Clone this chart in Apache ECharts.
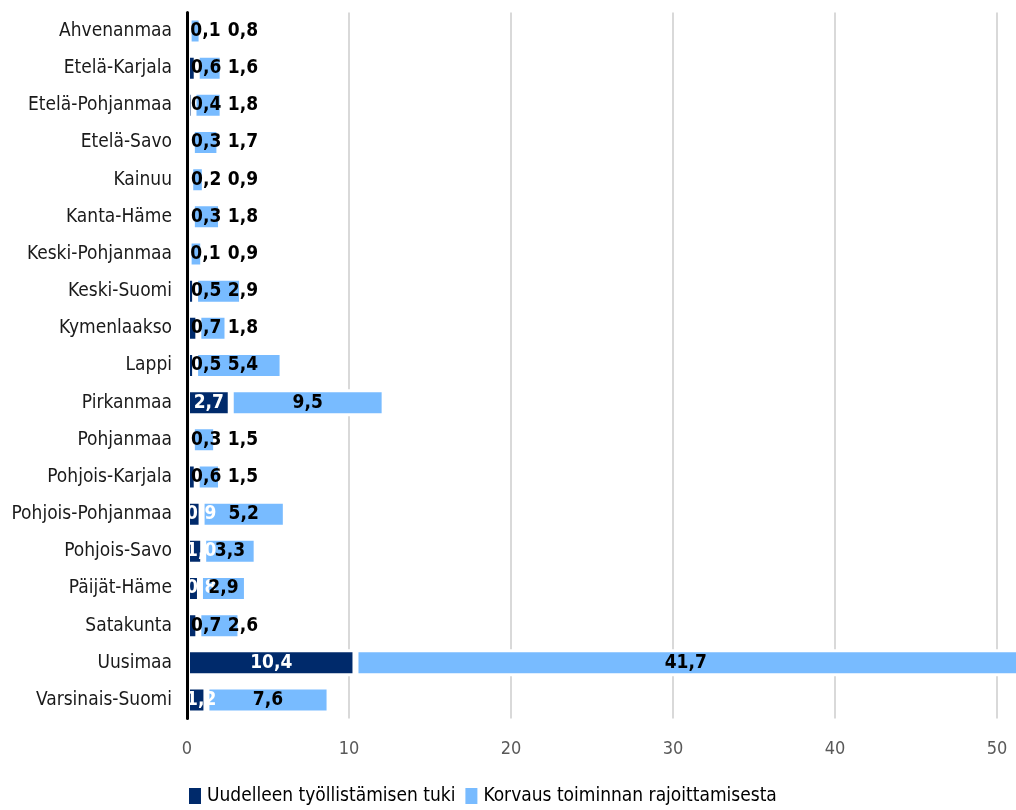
<!DOCTYPE html>
<html><head><meta charset="utf-8">
<script src="https://cdn.jsdelivr.net/npm/echarts@6/dist/echarts.min.js"></script>
<style>html,body{margin:0;padding:0;background:#fff}#c{width:1016px;height:810px}</style>
</head><body><div id="c"></div>
<script>
const categories = ['Ahvenanmaa','Etelä-Karjala','Etelä-Pohjanmaa','Etelä-Savo','Kainuu','Kanta-Häme','Keski-Pohjanmaa','Keski-Suomi','Kymenlaakso','Lappi','Pirkanmaa','Pohjanmaa','Pohjois-Karjala','Pohjois-Pohjanmaa','Pohjois-Savo','Päijät-Häme','Satakunta','Uusimaa','Varsinais-Suomi'];
const tuki = [0.1,0.6,0.4,0.3,0.2,0.3,0.1,0.5,0.7,0.5,2.7,0.3,0.6,0.9,1.0,0.8,0.7,10.4,1.2];
const korvaus = [0.8,1.6,1.8,1.7,0.9,1.8,0.9,2.9,1.8,5.4,9.5,1.5,1.5,5.2,3.3,2.9,2.6,41.7,7.6];
const seriesNames = ['Uudelleen työllistämisen tuki','Korvaus toiminnan rajoittamisesta'];
const xMin = 0, xInterval = 10;

const FONT = "'DejaVu Sans Condensed',sans-serif";
const DARK = '#002a6b', LIGHT = '#78bbff';
const GRID_LEFT = 187;
const fmt = v => v.toFixed(1).replace('.', ',');

const chart = echarts.init(document.getElementById('c'), null, {renderer:'canvas'});
const W = 1016;
const gridWidth = 1100;
const pxPerUnit = 16.2;
const xMax = gridWidth / pxPerUnit;
const darkInside = v => v >= 0.8;

const darkData = tuki.map(v => ({value: v, label: {color: darkInside(v) ? '#fff' : '#000'}}));

chart.setOption({
  animation: false,
  textStyle: {fontFamily: FONT},
  grid: {left: GRID_LEFT, width: gridWidth, top: 12.4, bottom: 91.4, containLabel: false, outerBoundsMode: 'none'},
  xAxis: {
    type: 'value', min: xMin, max: xMax, interval: xInterval,
    axisLine: {show: false}, axisTick: {show: false},
    splitLine: {show: true, lineStyle: {color: '#d9d9d9', width: 2}},
    axisLabel: {color: '#595959', fontSize: 18, fontFamily: FONT, margin: 22, showMaxLabel: false}
  },
  yAxis: {
    type: 'category', inverse: true, data: categories,
    axisLine: {show: true, lineStyle: {color: '#000', width: 3}},
    axisTick: {show: false},
    axisLabel: {color: '#1a1a1a', fontSize: 19, fontFamily: FONT, margin: 15},
    z: 10
  },
  legend: {
    left: 187, top: 786, itemWidth: 14, itemHeight: 18, itemGap: 8, padding: 0,
    icon: 'rect',
    textStyle: {color: '#000', fontSize: 19, fontFamily: FONT},
    data: seriesNames
  },
  series: [
    {
      name: seriesNames[0], type: 'bar', stack: 'a', data: darkData, barWidth: 27,
      itemStyle: {color: DARK, borderColor: '#fff', borderWidth: 3},
      label: {show: true, position: 'inside', fontSize: 19, fontWeight: 'bold', fontFamily: FONT,
        formatter: p => fmt(p.value)},
      labelLayout: function (p) {
        const r = p.rect, lr = p.labelRect;
        if (r.width >= lr.width + 4) return {};
        const v = tuki[p.dataIndex];
        const cur = lr.x + lr.width / 2;
        const target = darkInside(v) ? (r.x - 1 + lr.width / 2) : (r.x + 4 + lr.width / 2);
        return {dx: target - cur};
      }
    },
    {
      name: seriesNames[1], type: 'bar', stack: 'a', data: korvaus, barWidth: 27,
      itemStyle: {color: LIGHT, borderColor: '#fff', borderWidth: 3},
      label: {show: true, position: 'inside', color: '#000', fontSize: 19, fontWeight: 'bold', fontFamily: FONT,
        formatter: p => fmt(p.value)},
      labelLayout: function (p) {
        const r = p.rect, lr = p.labelRect;
        const cur = lr.x + lr.width / 2;
        let target;
        if (r.width >= lr.width + 4 && darkInside(tuki[p.dataIndex])) {
          const right = Math.min(r.x + r.width, W);
          target = (r.x + right) / 2;
        } else {
          target = GRID_LEFT + 56;
        }
        return {dx: target - cur};
      }
    }
  ]
});
</script></body></html>
